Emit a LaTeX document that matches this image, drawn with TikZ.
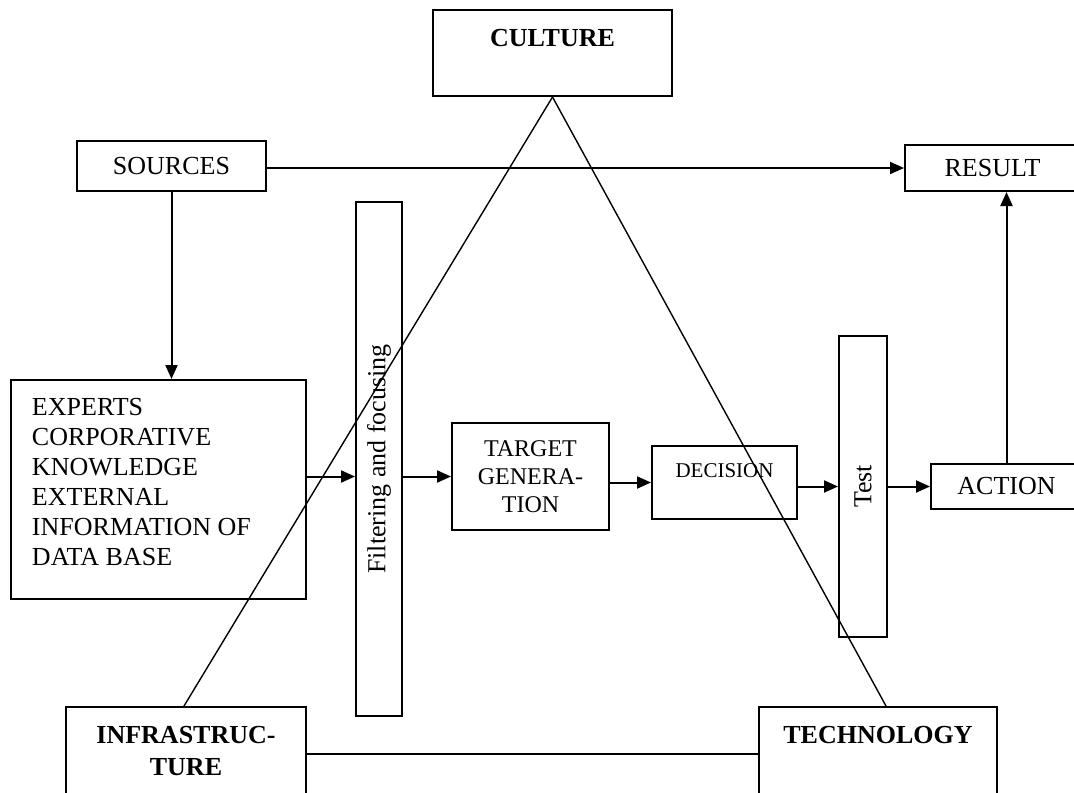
\documentclass[tikz,border=0pt]{standalone}
\usepackage{fontspec}
\setmainfont{Liberation Serif}
\usetikzlibrary{
	arrows.meta,
	positioning
}
\tikzset{
	>={Triangle[length=7pt, width=6pt]},
	blocknode/.style={draw, line width=1pt, inner sep=0pt, font=\fontsize{13}{15}\selectfont},
	boldnode/.style={blocknode, font=\fontsize{13}{16}\selectfont\bfseries},
	flowedge/.style={->, line width=1pt},
	triangleedge/.style={line width=0.7pt}
}
\begin{document}
\begin{tikzpicture}[x=0.5pt, y=-0.5pt]
	\useasboundingbox (0,0) rectangle (1074,792);

	\node[boldnode, minimum width=119.5pt, text height=18.25pt, text depth=24.75pt] (culture) at (552.5,53) {CULTURE};
	\node[blocknode, minimum width=94.5pt, minimum height=25pt] (sources) at (171.5,166) {SOURCES};
	\node[blocknode, minimum width=87.5pt, minimum height=23pt] (result) at (992.5,168) {RESULT};
	\node[blocknode, minimum width=147.5pt, text height=17.75pt, text depth=91.75pt] (experts) at (158.5,489.5)
		{\parbox[t]{126.5pt}{\raggedright EXPERTS\\CORPORATIVE\\KNOWLEDGE\\EXTERNAL\\INFORMATION OF\\DATA BASE}};
	\node[blocknode, minimum width=23pt, minimum height=257pt] (filter) at (379,459) {\rotatebox{90}{Filtering and focusing}};
	\node[blocknode, align=center, font=\fontsize{12}{14}\selectfont, minimum width=78.5pt, minimum height=53.5pt] (target) at (530.5,476.5) {TARGET\\GENERA-\\TION};
	\node[blocknode, font=\fontsize{10.5}{12}\selectfont, minimum width=72.5pt, text height=15.5pt, text depth=21pt] (decision) at (724.5,482.5) {DECISION};
	\node[blocknode, minimum width=24pt, minimum height=150.5pt] (test) at (863,486.5) {\rotatebox{90}{Test}};
	\node[blocknode, minimum width=75.5pt, minimum height=22.5pt, right=21pt of test] (action) {ACTION};
	\node[boldnode, minimum width=120pt, text height=18.25pt, text depth=28.25pt] (infra) at (186,753.5)
		{\parbox[t]{120pt}{\centering INFRASTRUC-\\TURE}};
	\node[boldnode, minimum width=119pt, text height=18.25pt, text depth=28.25pt] (tech) at (878,753.5) {TECHNOLOGY};

	\path[flowedge]
		(sources.east |- result) edge (result.west)
		(sources.south) edge (sources.south |- experts.north)
		(experts.east |- target) edge (filter.west |- target)
		(filter.east |- target) edge (target.west)
		(target.east |- decision) edge (decision.west)
		(decision.east |- test) edge (test.west)
		(test.east) edge (action.west)
		(action.north) edge (action.north |- result.south)
	;

	\path[triangleedge]
		(culture.south) edge ([xshift=-1pt]infra.north)
			edge ([xshift=4pt]tech.north)
	;
	\draw[line width=1pt] (infra.east) -- (tech.west);
\end{tikzpicture}
\end{document}
